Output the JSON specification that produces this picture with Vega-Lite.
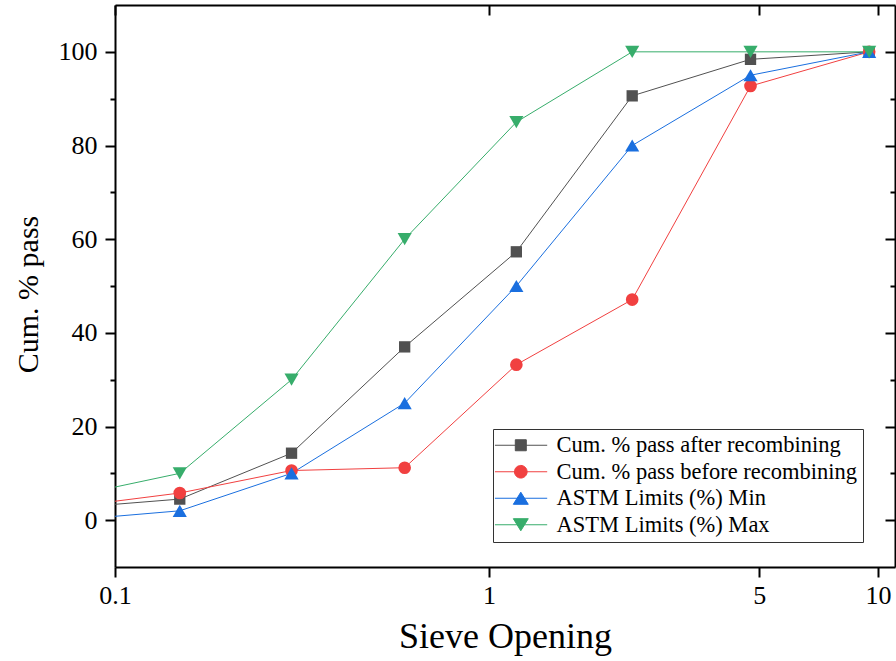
{
  "$schema": "https://vega.github.io/schema/vega-lite/v6.json",
  "width": 780,
  "height": 562,
  "autosize": {"type": "none"},
  "padding": {"left": 115, "top": 5, "right": 1, "bottom": 94},
  "background": "white",
  "config": {
    "view": {"stroke": null},
    "font": "Liberation Serif",
    "axis": {
      "labelFont": "Liberation Serif",
      "titleFont": "Liberation Serif",
      "labelColor": "black",
      "titleColor": "black",
      "domainColor": "black",
      "tickColor": "black",
      "domainWidth": 2,
      "tickWidth": 2,
      "grid": false,
      "labelFontSize": 26,
      "labelFlush": false,
      "titleFontWeight": "normal"
    }
  },
  "data": {
    "values": [
      {"opening": 0.075, "pass": 2.6, "series": "Cum. % pass after recombining"},
      {"opening": 0.15, "pass": 4.5, "series": "Cum. % pass after recombining"},
      {"opening": 0.3, "pass": 14.3, "series": "Cum. % pass after recombining"},
      {"opening": 0.6, "pass": 37.0, "series": "Cum. % pass after recombining"},
      {"opening": 1.18, "pass": 57.3, "series": "Cum. % pass after recombining"},
      {"opening": 2.36, "pass": 90.6, "series": "Cum. % pass after recombining"},
      {"opening": 4.75, "pass": 98.4, "series": "Cum. % pass after recombining"},
      {"opening": 9.5, "pass": 100, "series": "Cum. % pass after recombining"},
      {"opening": 0.075, "pass": 2.8, "series": "Cum. % pass before recombining"},
      {"opening": 0.15, "pass": 5.8, "series": "Cum. % pass before recombining"},
      {"opening": 0.3, "pass": 10.6, "series": "Cum. % pass before recombining"},
      {"opening": 0.6, "pass": 11.2, "series": "Cum. % pass before recombining"},
      {"opening": 1.18, "pass": 33.2, "series": "Cum. % pass before recombining"},
      {"opening": 2.36, "pass": 47.1, "series": "Cum. % pass before recombining"},
      {"opening": 4.75, "pass": 92.7, "series": "Cum. % pass before recombining"},
      {"opening": 9.5, "pass": 100, "series": "Cum. % pass before recombining"},
      {"opening": 0.075, "pass": 0, "series": "ASTM Limits (%) Min"},
      {"opening": 0.15, "pass": 2, "series": "ASTM Limits (%) Min"},
      {"opening": 0.3, "pass": 10, "series": "ASTM Limits (%) Min"},
      {"opening": 0.6, "pass": 25, "series": "ASTM Limits (%) Min"},
      {"opening": 1.18, "pass": 50, "series": "ASTM Limits (%) Min"},
      {"opening": 2.36, "pass": 80, "series": "ASTM Limits (%) Min"},
      {"opening": 4.75, "pass": 95, "series": "ASTM Limits (%) Min"},
      {"opening": 9.5, "pass": 100, "series": "ASTM Limits (%) Min"},
      {"opening": 0.075, "pass": 5, "series": "ASTM Limits (%) Max"},
      {"opening": 0.15, "pass": 10, "series": "ASTM Limits (%) Max"},
      {"opening": 0.3, "pass": 30, "series": "ASTM Limits (%) Max"},
      {"opening": 0.6, "pass": 60, "series": "ASTM Limits (%) Max"},
      {"opening": 1.18, "pass": 85, "series": "ASTM Limits (%) Max"},
      {"opening": 2.36, "pass": 100, "series": "ASTM Limits (%) Max"},
      {"opening": 4.75, "pass": 100, "series": "ASTM Limits (%) Max"},
      {"opening": 9.5, "pass": 100, "series": "ASTM Limits (%) Max"}
    ]
  },
  "resolve": {"axis": {"x": "independent", "y": "independent"}},
  "layer": [
    {
      "mark": {"type": "line", "clip": true, "strokeWidth": 1},
      "encoding": {
        "x": {
          "field": "opening",
          "type": "quantitative",
          "scale": {"type": "pow", "exponent": 0.0173, "domain": [0.1, 11.035], "nice": false, "zero": false},
          "axis": {
            "orient": "bottom",
            "values": [0.1, 1, 5, 10],
            "format": ".2~f",
            "tickSize": 10,
            "labelPadding": 5,
            "title": "Sieve Opening",
            "titleFontSize": 36,
            "titleX": 390,
            "titleY": 80,
            "titleBaseline": "alphabetic",
            "titleAlign": "center"
          }
        },
        "y": {
          "field": "pass",
          "type": "quantitative",
          "scale": {"domain": [-10, 110], "nice": false, "zero": false},
          "axis": {
            "orient": "left",
            "values": [0, 10, 20, 30, 40, 50, 60, 70, 80, 90, 100],
            "tickSize": {"condition": {"test": "datum.value % 20 !== 0", "value": 5}, "value": 10},
            "labelExpr": "datum.value % 20 === 0 ? datum.label : ''",
            "labelPadding": 8,
            "title": "Cum. % pass",
            "titleFontSize": 30,
            "titleX": -78,
            "titleY": 289,
            "titleBaseline": "alphabetic",
            "titleAlign": "center",
            "titleAngle": -90
          }
        },
        "color": {
          "field": "series",
          "type": "nominal",
          "scale": {
            "domain": ["Cum. % pass after recombining", "Cum. % pass before recombining", "ASTM Limits (%) Min", "ASTM Limits (%) Max"],
            "range": ["#515151", "#F14040", "#1A6FDF", "#37AD6B"]
          },
          "legend": {
            "orient": "none",
            "legendX": 378,
            "legendY": 424,
            "title": null,
            "padding": 5,
            "strokeColor": "#333333",
            "fillColor": "white",
            "labelFont": "Liberation Serif",
            "labelFontSize": 22.5,
            "labelColor": "black",
            "labelLimit": 500,
            "labelOffset": 36,
            "rowPadding": 3.5,
            "symbolSize": 121,
            "encode": {
              "symbols": {
                "update": {
                  "shape": {"signal": "datum.value === 'Cum. % pass after recombining' ? 'M-2.6,0H6.9M1.1,-1H3.1V1H1.1Z' : datum.value === 'Cum. % pass before recombining' ? 'M-2.6,0H6.9M0.95,0A1.15,1.15,0,1,0,3.25,0A1.15,1.15,0,1,0,0.95,0Z' : datum.value === 'ASTM Limits (%) Min' ? 'M-2.6,0H6.9M2.1,-1.1L3.46,1.1L0.74,1.1Z' : 'M-2.6,0H6.9M0.74,-1.1L3.46,-1.1L2.1,1.1Z'"},
                  "size": {"value": 121},
                  "fill": {"scale": "color", "field": "value"},
                  "stroke": {"scale": "color", "field": "value"},
                  "strokeWidth": {"value": 1},
                  "opacity": {"value": 1}
                }
              }
            }
          }
        }
      }
    },
    {
      "transform": [{"filter": "datum.series === 'Cum. % pass after recombining'"}],
      "mark": {"type": "point", "filled": true, "opacity": 1, "clip": true, "shape": "square", "size": 128},
      "encoding": {
        "x": {
          "field": "opening",
          "type": "quantitative",
          "axis": {
            "orient": "top",
            "values": [0.1, 1, 5, 10],
            "tickSize": -10,
            "labels": false,
            "title": null
          }
        },
        "y": {
          "field": "pass",
          "type": "quantitative",
          "axis": {
            "orient": "right",
            "values": [0, 10, 20, 30, 40, 50, 60, 70, 80, 90, 100],
            "tickSize": {"condition": {"test": "datum.value % 20 !== 0", "value": -5}, "value": -10},
            "labels": false,
            "title": null
          }
        },
        "color": {"field": "series", "type": "nominal", "legend": null}
      }
    },
    {
      "transform": [{"filter": "datum.series === 'Cum. % pass before recombining'"}],
      "mark": {"type": "point", "filled": true, "opacity": 1, "clip": true, "shape": "circle", "size": 160},
      "encoding": {
        "x": {"field": "opening", "type": "quantitative", "axis": null},
        "y": {"field": "pass", "type": "quantitative", "axis": null},
        "color": {"field": "series", "type": "nominal", "legend": null}
      }
    },
    {
      "transform": [{"filter": "datum.series === 'ASTM Limits (%) Min'"}],
      "mark": {"type": "point", "filled": true, "opacity": 1, "clip": true, "shape": "triangle-up", "size": 200},
      "encoding": {
        "x": {"field": "opening", "type": "quantitative", "axis": null},
        "y": {"field": "pass", "type": "quantitative", "axis": null},
        "color": {"field": "series", "type": "nominal", "legend": null}
      }
    },
    {
      "transform": [{"filter": "datum.series === 'ASTM Limits (%) Max'"}],
      "mark": {"type": "point", "filled": true, "opacity": 1, "clip": true, "shape": "triangle-down", "size": 200},
      "encoding": {
        "x": {"field": "opening", "type": "quantitative", "axis": null},
        "y": {"field": "pass", "type": "quantitative", "axis": null},
        "color": {"field": "series", "type": "nominal", "legend": null}
      }
    }
  ]
}
